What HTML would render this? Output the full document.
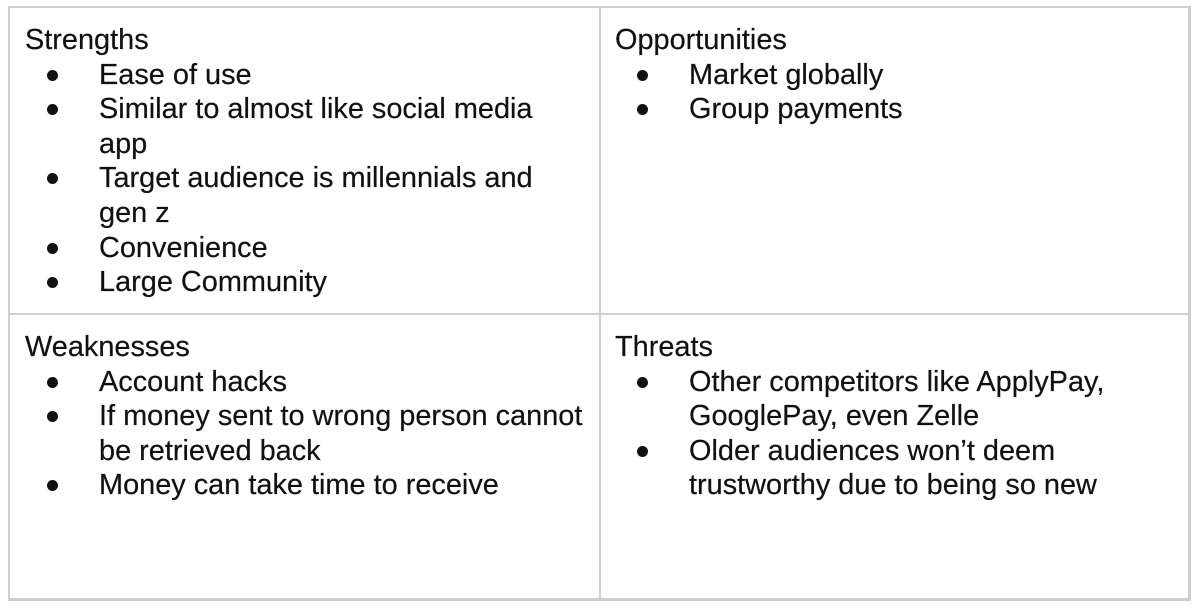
<!DOCTYPE html>
<html><head><meta charset="utf-8"><style>
html,body{margin:0;padding:0;background:#fff;width:1200px;height:610px;overflow:hidden}
body{position:relative;font-family:"Liberation Sans",Arial,sans-serif;color:#111;font-size:28.9px}
.b{position:absolute;background:#cfcfcf}
.t{position:absolute;white-space:nowrap;line-height:34px;height:34px;-webkit-text-stroke:0.2px #111}
.d{position:absolute;width:11px;height:11px;border-radius:50%;background:#111}
</style></head><body>
<div class="b" style="left:8px;top:6px;width:1183px;height:2px"></div>
<div class="b" style="left:8px;top:598px;width:1183px;height:3px"></div>
<div class="b" style="left:8px;top:6px;width:2px;height:595px"></div>
<div class="b" style="left:1188px;top:6px;width:3px;height:595px"></div>
<div class="b" style="left:599px;top:6px;width:2px;height:595px"></div>
<div class="b" style="left:8px;top:313px;width:1183px;height:2px"></div>
<div id="c"></div>
<script>
const cells=[
 {x:25,y:40,title:'Strengths',items:[['Ease of use'],['Similar to almost like social media','app'],['Target audience is millennials and','gen z'],['Convenience'],['Large Community']]},
 {x:615,y:40,title:'Opportunities',items:[['Market globally'],['Group payments']]},
 {x:25,y:347,title:'Weaknesses',items:[['Account hacks'],['If money sent to wrong person cannot','be retrieved back'],['Money can take time to receive']]},
 {x:615,y:347,title:'Threats',items:[['Other competitors like ApplyPay,','GooglePay, even Zelle'],['Older audiences won\u2019t deem','trustworthy due to being so new']]}
];
const c=document.getElementById('c');const P=34.6;
cells.forEach(cell=>{
 const h=document.createElement('div');h.className='t';
 
 
 h.style.left=cell.x+'px';h.style.top=(cell.y-17)+'px';h.textContent=cell.title;c.appendChild(h);
 let k=1;
 cell.items.forEach(it=>{
  const d=document.createElement('div');d.className='d';
  
  
  d.style.left=(cell.x+22)+'px';d.style.top=(cell.y+k*P-5)+'px';c.appendChild(d);
  it.forEach(line=>{
   const t=document.createElement('div');t.className='t';
   
   
   t.style.left=(cell.x+74)+'px';t.style.top=(cell.y+k*P-17)+'px';t.textContent=line;c.appendChild(t);k++;
  });
 });
});
</script>
</body></html>
